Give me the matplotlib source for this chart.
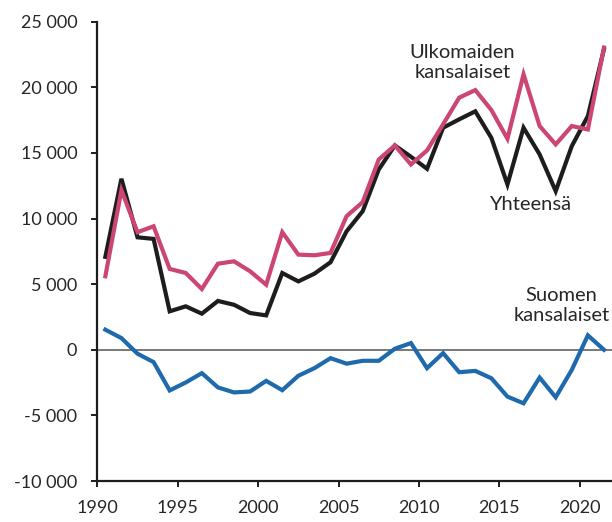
import matplotlib
matplotlib.use("Agg")
import matplotlib.pyplot as plt
import numpy as np

years = list(range(1990, 2022))
total = [7080, 13030, 8570, 8450, 2930, 3310, 2750, 3720, 3430, 2800, 2620, 5850,
         5210, 5800, 6670, 9030, 10560, 13740, 15570, 14710, 13790, 16920, 17560, 18170,
         16150, 12600, 16920, 14890, 12090, 15520, 17810, 22900]
foreign = [5600, 12160, 8960, 9410, 6160, 5850, 4630, 6560, 6740, 5980, 4960, 8960,
           7250, 7200, 7380, 10180, 11250, 14500, 15570, 14120, 15190, 17180, 19210, 19790,
           18270, 16080, 20990, 17050, 15650, 17050, 16790, 23030]
finnish = [1530, 890, -300, -940, -3100, -2490, -1780, -2870, -3250, -3180, -2370, -3080,
           -1980, -1400, -640, -1060, -840, -840, 80, 510, -1400, -255, -1710, -1610,
           -2170, -3570, -4080, -2120, -3620, -1530, 1100, 0]
xtick_years = [1990, 1995, 2000, 2005, 2010, 2015, 2020]
ytick_vals = [-10000, -5000, 0, 5000, 10000, 15000, 20000, 25000]
ytick_labels = ["-10 000", "-5 000", "0", "5 000", "10 000", "15 000", "20 000", "25 000"]

plt.rcParams['font.family'] = ['Lato', 'DejaVu Sans']
fig = plt.figure(figsize=(6.12, 5.22), dpi=100)
ax = fig.add_axes([97.3/612, 41/522, 1 - 97.3/612, (481 - 21.7)/522])

x = np.array(years) + 0.5
text_c = '#262626'
ax.axhline(0, color='#6e6e6e', lw=1.3, zorder=1)
ax.plot(x, finnish, color='#1f69ad', lw=3.0, zorder=3, solid_joinstyle='miter')
ax.plot(x, total, color='#1d1d1b', lw=3.0, zorder=3, solid_joinstyle='miter')
ax.plot(x, foreign, color='#cc4574', lw=3.0, zorder=4, solid_joinstyle='miter')

ax.set_xlim(1990, 2022)
ax.set_ylim(-10000, 25000)
ax.set_xticks(xtick_years)
ax.set_xticklabels([str(y) for y in xtick_years])
ax.set_yticks(ytick_vals)
ax.set_yticklabels(ytick_labels)

for s in ['top', 'right']:
    ax.spines[s].set_visible(False)
for s in ['left', 'bottom']:
    ax.spines[s].set_linewidth(1.6)
    ax.spines[s].set_color('#1d1d1b')
ax.tick_params(axis='both', length=4.5, width=1.4, color='#1d1d1b',
               labelsize=13, labelcolor=text_c)
ax.tick_params(axis='y', pad=10)
ax.tick_params(axis='x', pad=9)

ax.text(2012.7, 21900, "Ulkomaiden\nkansalaiset", ha='center', va='center',
        fontsize=14.5, color=text_c, linespacing=1.2, clip_on=False)
ax.text(2016.9, 11070, "Yhteensä", ha='center', va='center', fontsize=14.5, color=text_c)
ax.text(2018.85, 3400, "Suomen\nkansalaiset", ha='center', va='center',
        fontsize=14.5, color=text_c, linespacing=1.2)

fig.savefig("out.png", dpi=100)
